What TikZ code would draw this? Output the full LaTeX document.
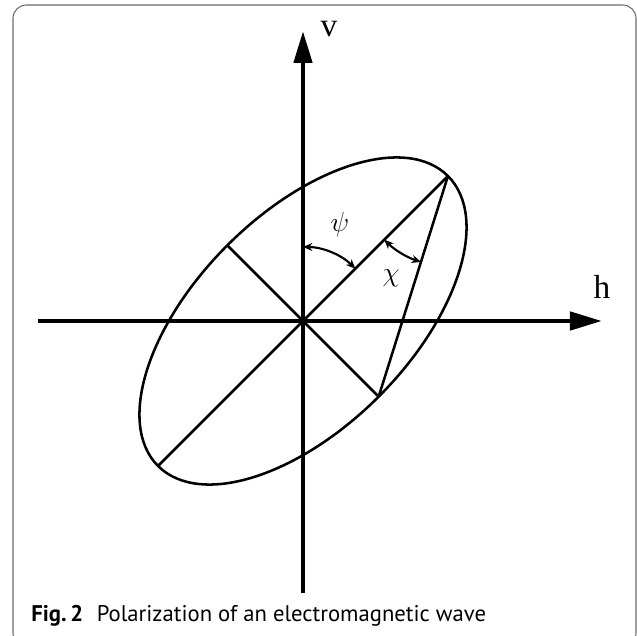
\documentclass[tikz,border=0pt]{standalone}
\usepackage{fontspec}
\usepackage{amsmath}
\usetikzlibrary{arrows.meta, positioning, calc}
\newfontfamily\capfont{PT Sans}
\newfontfamily\lblfont{Liberation Serif}
\definecolor{framegray}{HTML}{6A6A6A}

\begin{document}
\begin{tikzpicture}[x=0.75pt, y=0.75pt,
    axis/.style={line width=3.5pt, -{Triangle[length=24pt, width=13.5pt]}},
    curve/.style={line width=1.9pt},
    anglemark/.style={line width=1.6pt, {Stealth[length=7pt, width=6pt]}-{Stealth[length=7pt, width=6pt]}}]
    \useasboundingbox (-303,-315) rectangle (334,321);
    \clip (-303,-315) rectangle (334,321);
    \draw[framegray, line width=0.8pt, rounded corners=10pt] (-290,-325) rectangle (333,316);

    % origin and ellipse points
    \coordinate (O) at (0,0);
    \coordinate (A) at (45:205);
    \coordinate (D) at (225:205);
    \coordinate (B) at (-45:107);
    \coordinate (C) at (135:107);
    \coordinate (hleft) at (-265,0);
    \coordinate (hright) at (299,0);
    \coordinate (vbot) at (0,-272);
    \coordinate (vtop) at (0,290);

    \draw[axis] (hleft) -- (hright);
    \draw[axis] (vbot) -- (vtop);
    \node[font=\lblfont\fontsize{25}{25}\selectfont] (hlab) at (299,34) {h};
    \node[font=\lblfont\fontsize{25}{25}\selectfont] (vlab) at (26,292) {v};

    \draw[curve, rotate around={45:(O)}] (O) ellipse [x radius=205, y radius=107];
    \draw[curve] (D) -- (A);
    \draw[curve] (C) -- (B);
    \draw[curve] (A) -- (B);

    \draw[anglemark] (O) ++(90:74) arc[start angle=90, end angle=45, radius=74];
    \draw[anglemark] (A) ++(225:90) arc[start angle=225, end angle=252.57, radius=90];
    \node[font=\fontsize{22}{22}\selectfont] (psi) at (37,96) {$\psi$};
    \node[font=\fontsize{22}{22}\selectfont] (chi) at (88,43) {$\chi$};

    \node[anchor=base west, inner sep=0pt, font=\capfont\fontsize{17}{17}\selectfont] (cap) at (-272,-300)
        {\textbf{Fig.\,2}\hspace{0.6em}Polarization of an electromagnetic wave};
\end{tikzpicture}
\end{document}
